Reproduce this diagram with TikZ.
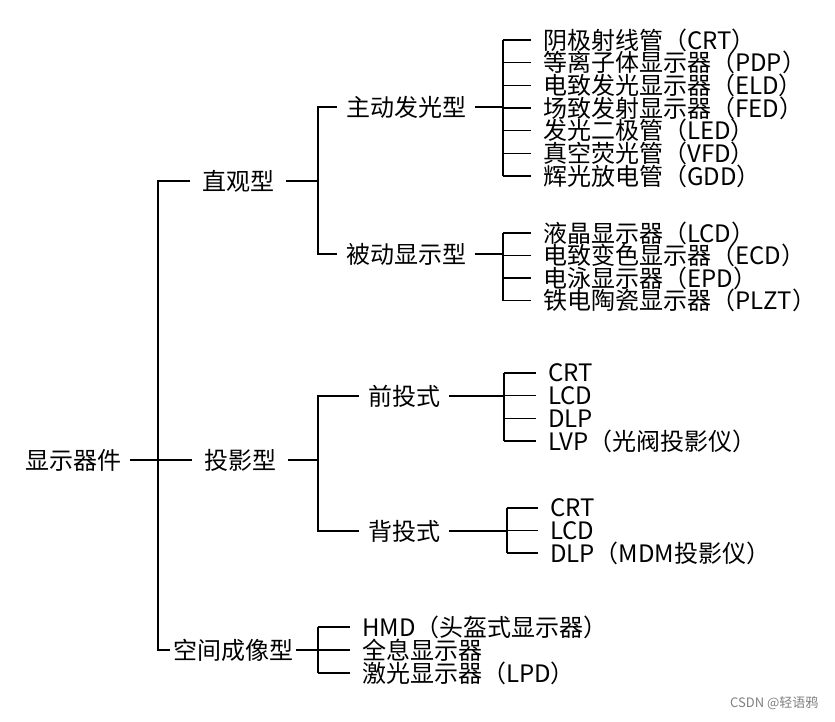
\documentclass[tikz,border=0pt]{standalone}
\usepackage{fontspec}
\setmainfont{Noto Sans CJK SC}
\begin{document}
\begin{tikzpicture}[x=1pt,y=-1pt,every node/.style={font=\fontsize{24}{24}\selectfont, inner ysep=0pt}]
  \tikzset{
    cat/.style={anchor=west, inner xsep=9pt},
    mid/.style={anchor=west, inner xsep=12pt},
    leaf/.style={anchor=west, inner xsep=12pt},
    link/.style={line width=1.6pt}
  }
  \useasboundingbox (0,0) rectangle (835,721);
  \node[cat] (root) at (16,460) {显示器件};
  \node[mid] (zg) at (190,181) {直观型};
  \node[mid] (ty) at (192,460) {投影型};
  \node[anchor=west, inner xsep=3pt] (kj) at (170,650) {空间成像型};
  \node[cat] (zd) at (337,107) {主动发光型};
  \node[cat] (bd) at (337,254) {被动显示型};
  \node[cat] (qt) at (359,396) {前投式};
  \node[cat] (bt) at (359,531) {背投式};
  \coordinate (trunk) at (158,460);
  \coordinate (j1) at (318,181);
  \coordinate (j2) at (503,107);
  \coordinate (j3) at (503,254);
  \coordinate (j4) at (318,460);
  \coordinate (j5) at (504,396);
  \coordinate (j6) at (507,531);
  \coordinate (j7) at (318,650);
  \foreach \t [count=\i] in {阴极射线管（CRT）, 等离子体显示器（PDP）, 电致发光显示器（ELD）,
      场致发射显示器（FED）, 发光二极管（LED）, 真空荧光管（VFD）, 辉光放电管（GDD）}
    \node[leaf] (a\i) at (531,{40+22.67*(\i-1)}) {\t};
  \foreach \t [count=\i] in {液晶显示器（LCD）, 电致变色显示器（ECD）, 电泳显示器（EPD）, 铁电陶瓷显示器（PLZT）}
    \node[leaf] (b\i) at (531,{233+22.5*(\i-1)}) {\t};
  \foreach \t [count=\i] in {CRT, LCD, DLP, LVP（光阀投影仪）}
    \node[leaf] (c\i) at (536,{373+22.67*(\i-1)}) {\t};
  \foreach \t [count=\i] in {CRT, LCD, DLP（MDM投影仪）}
    \node[leaf] (d\i) at (538,{508+22.5*(\i-1)}) {\t};
  \foreach \t [count=\i] in {HMD（头盔式显示器）, 全息显示器, 激光显示器（LPD）}
    \node[leaf] (e\i) at (350,{627+23*(\i-1)}) {\t};
  \node[anchor=east, font=\fontsize{13}{13}\selectfont, text=gray] (wm) at (822,703) {CSDN @轻语鸦};
  % trunk and first level
  \draw[link] (root.east) -- (ty.west);
  \draw[link] (zg.west) -| (kj.west -| trunk) -- (kj.west);
  \draw[link] (zg.east) -- (j1);
  \draw[link] (zd.west) -| (bd.west -| j1) -- (bd.west);
  \draw[link] (ty.east) -- (j4);
  \draw[link] (qt.west) -| (bt.west -| j4) -- (bt.west);
  \draw[link] (kj.east) -- (j7);
  % leaves
  \draw[link] (zd.east) -- (j2);
  \draw[link] (j2 |- a1.west) -- (j2 |- a7.west);
  \foreach \i in {1,...,7} \draw[link] (j2 |- a\i.west) -- (a\i.west);
  \draw[link] (bd.east) -- (j3);
  \draw[link] (j3 |- b1.west) -- (j3 |- b4.west);
  \foreach \i in {1,...,4} \draw[link] (j3 |- b\i.west) -- (b\i.west);
  \draw[link] (qt.east) -- (j5);
  \draw[link] (j5 |- c1.west) -- (j5 |- c4.west);
  \foreach \i in {1,...,4} \draw[link] (j5 |- c\i.west) -- (c\i.west);
  \draw[link] (bt.east) -- (j6);
  \draw[link] (j6 |- d1.west) -- (j6 |- d3.west);
  \foreach \i in {1,...,3} \draw[link] (j6 |- d\i.west) -- (d\i.west);
  \draw[link] (j7 |- e1.west) -- (j7 |- e3.west);
  \foreach \i in {1,...,3} \draw[link] (j7 |- e\i.west) -- (e\i.west);
\end{tikzpicture}
\end{document}
